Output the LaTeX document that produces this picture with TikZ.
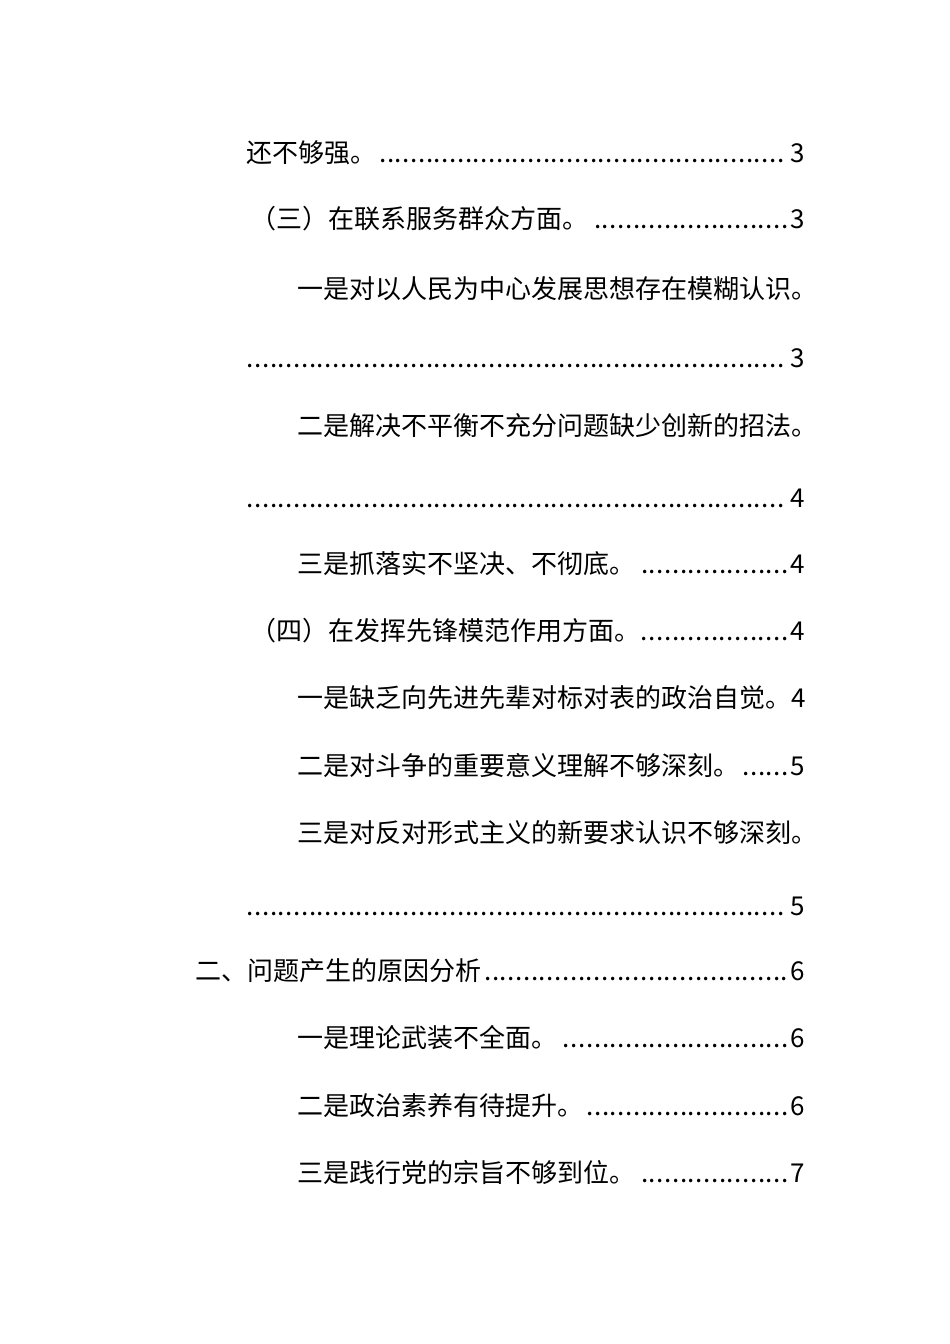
\documentclass[tikz,border=0pt]{standalone}
\usepackage{fontspec}
\setmainfont{Noto Sans CJK SC}
\newcommand{\dotlead}{\leaders\hbox to 0.3em{\hss.\hss}\hfill}
\newcommand{\tocline}[4]{\node[entry] (#1) at (#2*0.02,-#3*0.02) {\hbox to \dimexpr(805pt-#2pt)*2/100*2845/100\relax{#4}};}
\begin{document}
\begin{tikzpicture}[x=1cm,y=1cm]
\tikzstyle{entry}=[anchor=base west,inner sep=0pt,font=\fontsize{14.8}{18}\selectfont]
\useasboundingbox[fill=white] (0,0) rectangle (19,-26.88);
\tocline{l1}{246}{162}{还不够强。\dotlead 3}
\tocline{l2}{250}{228}{（三）在联系服务群众方面。\dotlead 3}
\tocline{l3}{297}{298}{一是对以人民为中心发展思想存在模糊认识。\hfill}
\tocline{l4}{246}{367}{\dotlead 3}
\tocline{l5}{297}{435}{二是解决不平衡不充分问题缺少创新的招法。\hfill}
\tocline{l6}{246}{507}{\dotlead 4}
\tocline{l7}{297}{573}{三是抓落实不坚决、不彻底。\dotlead 4}
\tocline{l8}{250}{640}{（四）在发挥先锋模范作用方面。\dotlead 4}
\tocline{l9}{297}{707}{一是缺乏向先进先辈对标对表的政治自觉。\hfill 4}
\tocline{l10}{297}{775}{二是对斗争的重要意义理解不够深刻。\dotlead 5}
\tocline{l11}{297}{842}{三是对反对形式主义的新要求认识不够深刻。\hfill}
\tocline{l12}{246}{915}{\dotlead 5}
\tocline{l13}{195}{980}{二、问题产生的原因分析\dotlead 6}
\tocline{l14}{297}{1047}{一是理论武装不全面。\dotlead 6}
\tocline{l15}{297}{1115}{二是政治素养有待提升。\dotlead 6}
\tocline{l16}{297}{1182}{三是践行党的宗旨不够到位。\dotlead 7}
\end{tikzpicture}
\end{document}
